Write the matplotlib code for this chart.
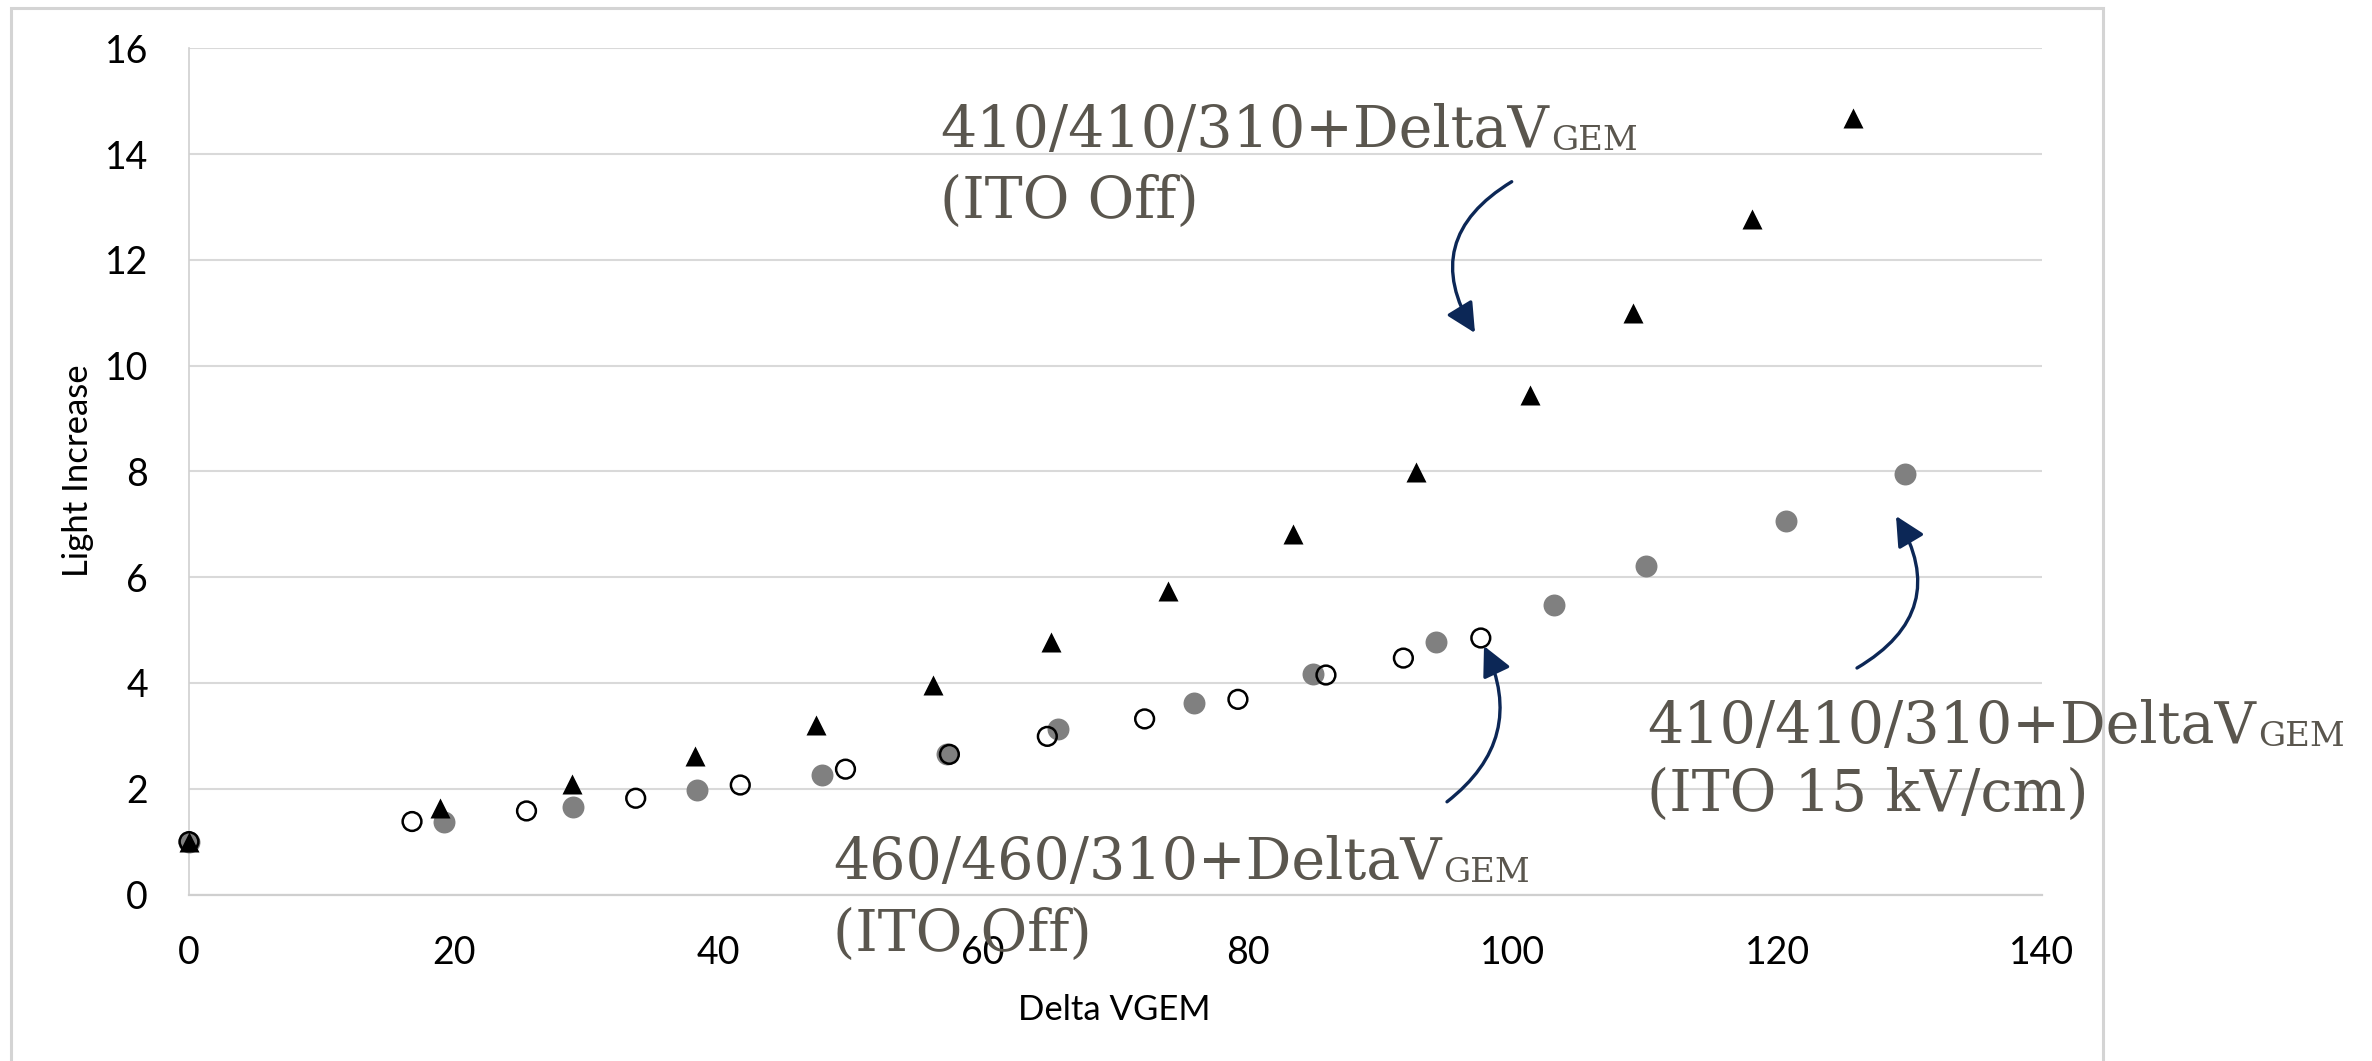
import matplotlib
matplotlib.use('Agg')
import matplotlib.pyplot as plt
from matplotlib.patches import FancyArrowPatch, Rectangle

# ---------------- data ----------------
tri_x = [0, 19.0, 28.9, 38.2, 47.4, 56.2, 65.1, 74.0, 83.4, 92.7, 101.3, 109.1, 118.1, 125.7]
tri_y = [1.0, 1.63, 2.08, 2.62, 3.21, 3.97, 4.77, 5.74, 6.82, 7.99, 9.45, 10.99, 12.78, 14.69]

gray_x = [0, 19.3, 29.0, 38.35, 47.85, 57.25, 65.65, 75.95, 84.95, 94.25, 103.15, 110.05, 120.65, 129.65]
gray_y = [1.0, 1.38, 1.65, 1.98, 2.26, 2.66, 3.12, 3.62, 4.17, 4.78, 5.48, 6.22, 7.06, 7.96]

open_x = [0, 16.85, 25.5, 33.75, 41.65, 49.6, 57.45, 64.85, 72.2, 79.25, 85.9, 91.75, 97.6]
open_y = [1.0, 1.38, 1.58, 1.82, 2.07, 2.37, 2.65, 2.99, 3.32, 3.69, 4.15, 4.47, 4.85]

x_ticks = [0, 20, 40, 60, 80, 100, 120, 140]
y_ticks = [0, 2, 4, 6, 8, 10, 12, 14, 16]
x_label = "Delta VGEM"
y_label = "Light Increase"

notes = [
    ("410/410/310+DeltaV", "GEM", "(ITO Off)"),
    ("460/460/310+DeltaV", "GEM", "(ITO Off)"),
    ("410/410/310+DeltaV", "GEM", "(ITO 15 kV/cm)"),
]

# ---------------- layout ----------------
W, H = 2372, 1061
DPI = 100
fig = plt.figure(figsize=(W / DPI, H / DPI), dpi=DPI)
fig.patch.set_facecolor('white')

def fx(px):
    return px / W

def fy(py):
    return 1 - py / H

ax_l, ax_r, ax_t, ax_b = 189, 2042, 48.3, 894.5
ax = fig.add_axes([fx(ax_l), fy(ax_b), (ax_r - ax_l) / W, (ax_b - ax_t) / H])

ax.scatter(gray_x, gray_y, s=15.8 ** 2, marker='o', color='#808080', linewidths=0,
           zorder=3, clip_on=False)
ax.scatter(open_x, open_y, s=13.5 ** 2, marker='o', facecolors='none',
           edgecolors='black', linewidths=1.8, zorder=4, clip_on=False)
ax.scatter(tri_x, tri_y, s=14.4 ** 2, marker='^', color='black', linewidths=0,
           zorder=5, clip_on=False)

ax.set_xlim(0, 140)
ax.set_ylim(0, 16)
ax.set_xticks(x_ticks)
ax.set_yticks(y_ticks)
ax.set_xticklabels([str(v) for v in x_ticks])
ax.set_yticklabels([str(v) for v in y_ticks])

tick_font = 'Lato'
for lab in ax.get_xticklabels() + ax.get_yticklabels():
    lab.set_fontfamily(tick_font)
    lab.set_fontsize(27)
    lab.set_color('black')
ax.tick_params(axis='both', length=0, pad=29.5)

ax.grid(axis='y', color='#d9d9d9', linewidth=1.5)
ax.grid(axis='x', visible=False)
ax.set_axisbelow(True)
for s in ['top', 'right']:
    ax.spines[s].set_visible(False)
ax.spines['left'].set_color('#d0d0d0')
ax.spines['left'].set_linewidth(1.2)
ax.spines['bottom'].set_color('#cfcfcf')
ax.spines['bottom'].set_linewidth(1.6)

# axis labels
fig.text(fx(1114), fy(1019.6), x_label, ha='center', va='baseline',
         fontsize=25, fontfamily=tick_font, color='black')
fig.text(fx(88), fy(471), y_label, ha='center', va='baseline', rotation=90,
         rotation_mode='anchor', fontsize=25, fontfamily=tick_font, color='black')

# chart-area frame
fig.patches.append(Rectangle((fx(11), -0.1), (2103 - 11) / W, fy(8) + 0.1,
                             transform=fig.transFigure, fill=False,
                             edgecolor='#d4d4d4', linewidth=2.2, zorder=0))

# annotations
note_color = '#5a564e'
note_font = 'DejaVu Serif'
note_pos = [((940, 146.7), 218.3), ((833, 878.6), 950.7), ((1647, 742.9), 810.7)]

fig.canvas.draw()
renderer = fig.canvas.get_renderer()
for (main, sub, second), ((x0, base1), base2) in zip(notes, note_pos):
    t1 = fig.text(fx(x0), fy(base1), main, ha='left', va='baseline', fontsize=41,
                  fontfamily=note_font, color=note_color, zorder=10)
    bb = t1.get_window_extent(renderer=renderer)
    fig.text((bb.x1 + 2) / W, fy(base1 + 3), sub, ha='left', va='baseline', fontsize=24.5,
             fontfamily=note_font, color=note_color, zorder=10)
    fig.text(fx(x0), fy(base2), second, ha='left', va='baseline', fontsize=41,
             fontfamily=note_font, color=note_color, zorder=10)

arrow_color = '#0c2756'
arrows = [((1511.7, 181.7), (1475, 333), 0.5),
          ((1447, 801.8), (1484, 646), 0.4),
          ((1857, 668), (1896, 516), 0.5)]
for (sx, sy), (ex, ey), rad in arrows:
    a = FancyArrowPatch((fx(sx), fy(sy)), (fx(ex), fy(ey)), transform=fig.transFigure,
                        connectionstyle=f'arc3,rad={rad}',
                        arrowstyle='-|>,head_length=0.9,head_width=0.45',
                        mutation_scale=20, color=arrow_color, linewidth=2.4,
                        shrinkA=0, shrinkB=0, zorder=11)
    fig.patches.append(a)

fig.savefig('out.png', dpi=DPI, facecolor='white')
